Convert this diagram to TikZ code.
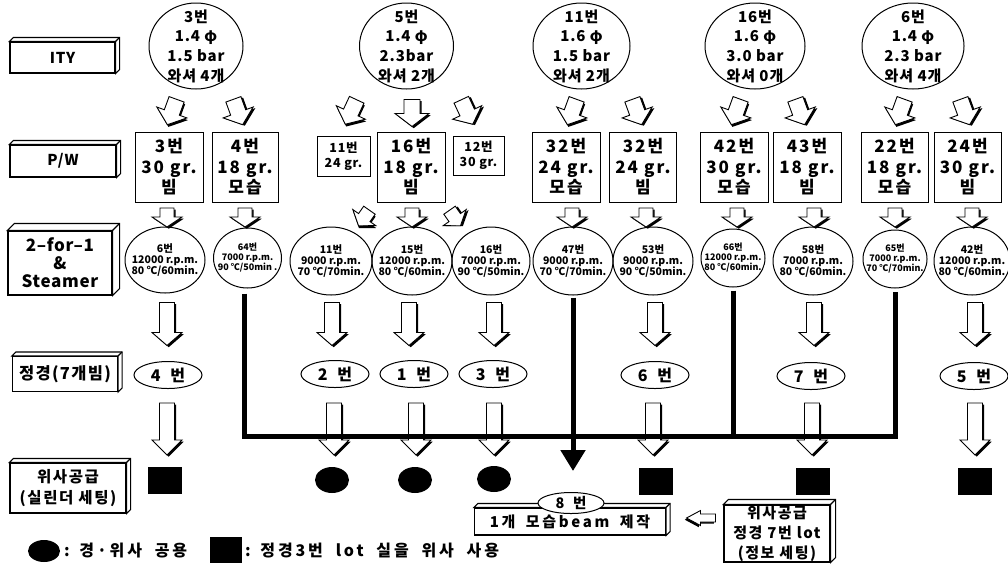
\documentclass[tikz,border=0pt]{standalone}
\usepackage{fontspec}
\setmainfont{Noto Sans CJK KR}
\usetikzlibrary{calc,arrows.meta,shapes.geometric}
\newcommand\ft[3]{\bfseries\fontsize{#1}{#2}\selectfont\addfontfeatures{LetterSpace=#3}}
\newcommand\gap[1][0.35em]{\hspace{#1}}
\newcommand\threed[2]{%
  \draw[line width=1.1pt, fill=white, line join=miter] (#1.north west) -- ++(#2,-#2) -| ($(#1.south east)+(#2,-#2)$) -- (#1.south east) -- (#1.north east) -- cycle;
  \draw[line width=1.1pt] (#1.north east) -- ++(#2,-#2);}
\tikzset{
  lab/.style={draw, fill=white, line width=1.1pt, inner sep=0pt, align=center},
  ity/.style={ellipse, draw, line width=1pt, minimum height=86pt, inner sep=0pt},
  etxt/.style={font=\ft{15}{19.7}{6}, align=center, inner sep=0pt},
  pw/.style={draw, line width=1pt, minimum width=68pt, minimum height=70pt, inner sep=0pt, align=center, font=\ft{17}{20.5}{12}},
  pws/.style={draw, line width=1pt, inner sep=0pt, align=center, font=\ft{12.5}{15}{6}},
  tw/.style={ellipse, draw, line width=1pt, minimum width=80pt, minimum height=68pt, inner sep=0pt},
  twt/.style={font=\ft{10.5}{11}{0}, align=center, inner sep=0pt},
  tws/.style={tw, minimum width=64pt, minimum height=58pt},
  twst/.style={font=\ft{9}{10}{0}, align=center, inner sep=0pt},
  jg/.style={ellipse, draw, line width=1pt, minimum width=68pt, minimum height=27pt, inner sep=0pt, font=\ft{16}{17}{0}},
  sq/.style={fill=black, minimum width=34pt, minimum height=27pt, inner sep=0pt},
  ci/.style={ellipse, fill=black, minimum width=34pt, minimum height=26pt, inner sep=0pt},
  thk/.style={line width=5pt, line join=miter},
  pics/barrow/.style args={#1/#2/#3/#4}{code={
    \pgfmathsetmacro\ya{-(#1+#2)/2}
    \pgfmathsetmacro\yb{\ya+#1}
    \pgfmathsetmacro\yc{\yb+#2}
    \fill[black, shift={(1.7,1.7)}] (-#3,\ya) -- (#3,\ya) -- (#3,\yb) -- (#4,\yb) -- (0,\yc) -- (-#4,\yb) -- (-#3,\yb) -- cycle;
    \filldraw[fill=white, draw=black, line width=0.9pt, line join=miter] (-#3,\ya) -- (#3,\ya) -- (#3,\yb) -- (#4,\yb) -- (0,\yc) -- (-#4,\yb) -- (-#3,\yb) -- cycle;
  }}
}
\begin{document}
\begin{tikzpicture}[x=1pt,y=-1pt]
\useasboundingbox (0,0) rectangle (1008,566);
\fill[white] (0,0) rectangle (1008,566);

% row labels
\node[lab, minimum width=105pt, minimum height=31pt, font=\ft{15}{17}{6}] (lity) at (62.5,57.5) {ITY};
\threed{lity}{4}
\node[lab, minimum width=106pt, minimum height=32pt, font=\ft{15}{17}{6}] (lpw) at (63,161) {P/W};
\threed{lpw}{4}
\node[lab, minimum width=104pt, minimum height=64pt, font=\ft{17}{18}{4}] (ltf) at (60,263) {2–for–1\\\&\\Steamer};
\threed{ltf}{7}
\node[lab, minimum width=105pt, minimum height=35pt, font=\ft{16.5}{18}{8}] (ljg) at (65,374) {정경(7개빔)};
\threed{ljg}{4}
\node[lab, minimum width=116pt, minimum height=50pt, font=\ft{15.5}{21}{10}] (lws) at (68,488) {위사공급\\(실린더 세팅)};
\threed{lws}{4}

% ITY ellipses
\node[ity, minimum width=94pt, label={[etxt]center:{3번\\1.4 φ\\1.5 bar\\와셔 4개}}] (i3) at (196,46) {};
\node[ity, minimum width=94pt, label={[etxt]center:{5번\\1.4 φ\\2.3bar\\와셔 2개}}] (i5) at (406.5,46) {};
\node[ity, minimum width=97pt, label={[etxt]center:{11번\\1.6 φ\\1.5 bar\\와셔 2개}}] (i11) at (581.5,46) {};
\node[ity, minimum width=100pt, label={[etxt]center:{16번\\1.6 φ\\3.0 bar\\와셔 0개}}] (i16) at (755,46) {};
\node[ity, minimum width=102pt, label={[etxt]center:{6번\\1.4 φ\\2.3 bar\\와셔 4개}}] (i6) at (913,46) {};

% tilted arrows ITY -> P/W
\pic[rotate=-20] at (172,112) {barrow=14/13/8/16};
\pic[rotate=20] at (238,112) {barrow=14/13/8/16};
\pic[rotate=-25] at (351,112) {barrow=14/13/8/16};
\pic at (412,113) {barrow=14/13/8/17};
\pic[rotate=25] at (467,112) {barrow=14/13/8/16};
\pic[rotate=-20] at (572,112) {barrow=14/13/8/16};
\pic[rotate=20] at (637,112) {barrow=14/13/8/16};
\pic[rotate=-20] at (736,112) {barrow=14/13/8/16};
\pic[rotate=20] at (800,112) {barrow=14/13/8/16};
\pic[rotate=-20] at (900,112) {barrow=14/13/8/16};
\pic[rotate=20] at (965,112) {barrow=14/13/8/16};

% P/W boxes
\node[pw] (p3) at (169,167) {3번\\30 gr.\\빔};
\node[pw, minimum width=66pt] (p4) at (245,167) {4번\\18 gr.\\모습};
\node[pws, minimum width=53pt, minimum height=40pt] (p11) at (343.5,156) {11번\\24 gr.};
\node[pw] (p16) at (411,167) {16번\\18 gr.\\빔};
\node[pws, minimum width=51pt, minimum height=39pt] (p12) at (478.5,155.5) {12번\\30 gr.};
\node[pw] (p32a) at (566,167) {32번\\24 gr.\\모습};
\node[pw, minimum width=67pt] (p32b) at (643,167) {32번\\24 gr.\\빔};
\node[pw] (p42) at (734,167) {42번\\30 gr.\\모습};
\node[pw] (p43) at (807,167) {43번\\18 gr.\\빔};
\node[pw, minimum width=67pt] (p22) at (894.5,167) {22번\\18 gr.\\모습};
\node[pw, minimum width=67pt] (p24) at (967.5,167) {24번\\30 gr.\\빔};

% 2-for-1 ellipses
\node[tw, minimum height=66pt, label={[twt]center:{6번\\12000 r.p.m.\\80 ℃/60min.}}] (e6) at (165,260) {};
\node[tws, minimum width=68pt, minimum height=60pt, label={[twst]center:{64번\\7000 r.p.m.\\90 ℃/50min .}}] (e64) at (247.5,258) {};
\node[tw, minimum width=82pt, label={[twt]center:{11번\\9000 r.p.m.\\70 ℃/70min.}}] (e11) at (331,261) {};
\node[tw, label={[twt]center:{15번\\12000 r.p.m.\\80 ℃/60min.}}] (e15) at (412,261) {};
\node[tw, minimum width=78pt, label={[twt]center:{16번\\7000 r.p.m.\\90 ℃/50min.}}] (e16) at (491,261) {};
\node[tw, label={[twt]center:{47번\\9000 r.p.m.\\70 ℃/70min.}}] (e47) at (573,261) {};
\node[tw, label={[twt]center:{53번\\9000 r.p.m.\\90 ℃/50min.}}] (e53) at (653,261) {};
\node[tws, label={[twst]center:{66번\\12000 r.p.m.\\80 ℃/60min.}}] (e66) at (733,258) {};
\node[tw, label={[twt]center:{58번\\7000 r.p.m.\\80 ℃/60min.}}] (e58) at (813,261) {};
\node[tws, label={[twst]center:{65번\\7000 r.p.m.\\70 ℃/70min.}}] (e65) at (895,259) {};
\node[tw, minimum width=76pt, label={[twt]center:{42번\\12000 r.p.m.\\80 ℃/60min.}}] (e42) at (972,261) {};

% small arrows P/W -> 2-for-1
\foreach \x in {167,245,412,572,646,737,814,895,972} \pic at (\x,217.5) {barrow=9/10/7/15};
\pic[rotate=-35] at (364,218) {barrow=9/10/7/14};
\pic[rotate=35] at (455,218) {barrow=9/10/7/14};

% big arrows 2-for-1 -> 정경
\foreach \x in {167,332,409,494,655,814,975} \pic at (\x,324) {barrow=30/13/7.5/15};

% 정경 ovals
\node[jg] (j4) at (168,375) {4\gap[0.6em]{}번};
\node[jg] (j2) at (335,374) {2\gap[0.6em]{}번};
\node[jg] (j1) at (414,374) {1\gap[0.6em]{}번};
\node[jg] (j3) at (493,374) {3\gap[0.6em]{}번};
\node[jg] (j6) at (655,375) {6\gap[0.6em]{}번};
\node[jg] (j7) at (811,376) {7\gap[0.6em]{}번};
\node[jg] (j5) at (974,376) {5\gap[0.6em]{}번};

% bottom arrows
\foreach \x in {167,334,416,494,653,812,975} \pic at (\x,429) {barrow=37/15/7.5/15};

% bottom shapes
\node[sq] (s4) at (165,480) {};
\node[ci] (c2) at (332,480) {};
\node[ci] (c1) at (415,480) {};
\node[ci] (c3) at (494,479) {};
\node[sq] (s6) at (656,481) {};
\node[sq] (s7) at (813,481) {};
\node[sq] (s5) at (975,481) {};

% 8번 box
\node[lab, minimum width=191pt, minimum height=27pt, font=\ft{15}{16}{18}] (b8) at (570,521.5) {1개\gap[0.7em]{}모습beam\gap[0.7em]{}제작};
\threed{b8}{4}
\node[ellipse, draw, fill=white, line width=1pt, minimum width=66pt, minimum height=21pt, inner sep=0pt, font=\ft{14.5}{16}{0}] (o8) at (571,503) {8\gap[0.6em]{}번};

% 위사공급 정경 7번 lot box
\node[lab, minimum width=106pt, minimum height=57pt, font=\ft{15}{20}{10}] (ljb) at (777,533.5) {위사공급\\정경 7번 lot\\(정보 세팅)};
\threed{ljb}{5}
\pic[rotate=-90] at (701,518) {barrow=15/14/4/7.5};

% thick lines
\coordinate (hl) at (0,436);
\draw[thk] ([xshift=-3pt,yshift=-5pt]e64.south) |- (e65.south |- hl) -- ([yshift=-3pt]e65.south);
\draw[thk] ([yshift=-3pt]e66.south) -- (e66.south |- hl);
\draw[thk, -{Triangle[width=24pt,length=21pt]}, shorten >=21pt] ([yshift=-2pt]e47.south) -- (e47.south |- o8.north);

% legend
\node[ellipse, fill=black, minimum width=32pt, minimum height=22pt, inner sep=0pt] (lc) at (44,551) {};
\node[anchor=west, font=\ft{16}{17}{18}, inner sep=0pt] (lt1) at (64,551) {:\gap[0.6em]{}경·위사\gap[0.8em]{}공용};
\node[fill=black, minimum width=32pt, minimum height=26pt, inner sep=0pt] (ls) at (226,550) {};
\node[anchor=west, font=\ft{16}{17}{18}, inner sep=0pt] (lt2) at (245,551) {:\gap[0.6em]{}정경3번\gap[0.8em]{}lot\gap[0.8em]{}실을\gap[0.8em]{}위사\gap[0.8em]{}사용};
\end{tikzpicture}
\end{document}
